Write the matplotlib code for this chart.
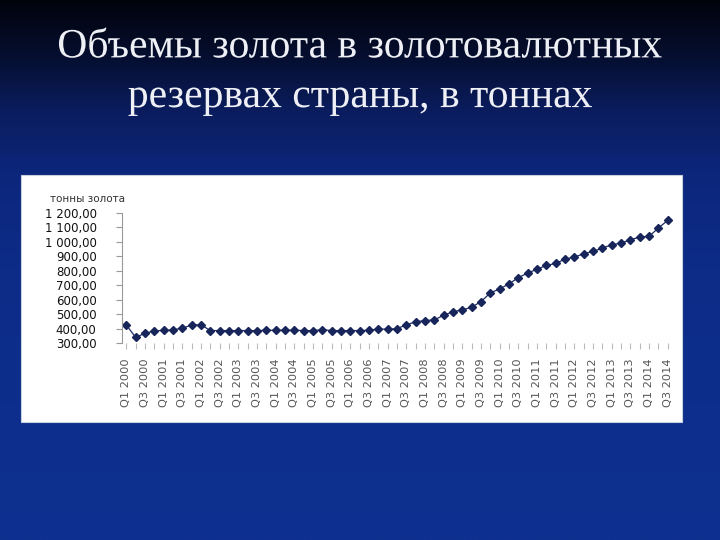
import numpy as np
import matplotlib
matplotlib.use('Agg')
import matplotlib.pyplot as plt
import matplotlib.patheffects as pe
from matplotlib.colors import LinearSegmentedColormap
from matplotlib.patches import Rectangle

# tonnes of gold, quarterly Q1 2000 .. Q3 2014
years = list(range(2000, 2015))
quarters = ['Q%d %d' % (q, y) for y in years for q in (1, 2, 3, 4)][:59]
tonnes = [425, 339, 367, 383, 388, 390, 404, 423, 427, 386,
          386, 386, 386, 386, 386, 388, 388, 388, 388, 386,
          386, 392, 386, 386, 386, 386, 388, 397, 395, 400,
          425, 448, 455, 460, 492, 517, 529, 548, 587, 647,
          675, 709, 753, 784, 811, 837, 851, 881, 895, 918,
          934, 957, 980, 992, 1015, 1033, 1038, 1096, 1149]
yticks = [300, 400, 500, 600, 700, 800, 900, 1000, 1100, 1200]

title = 'Объемы золота в золотовалютных\nрезервах страны, в тоннах'

W, H = 720, 540
fig = plt.figure(figsize=(7.2, 5.4), dpi=100)

# background gradient
bg = fig.add_axes([0, 0, 1, 1])
cmap = LinearSegmentedColormap.from_list('bg', [
    (0.0, '#01030c'), (0.1, '#050e2e'), (0.2, '#0a1c5c'),
    (0.32, '#0c267c'), (0.5, '#0d2c88'), (1.0, '#0e3090')])
grad = np.linspace(0, 1, 256).reshape(-1, 1)
bg.imshow(grad, aspect='auto', cmap=cmap, extent=[0, 1, 0, 1], origin='upper')
bg.set_xlim(0, 1)
bg.set_ylim(0, 1)
bg.axis('off')

# white panel
bg.add_patch(Rectangle((21 / W, 1 - 422 / H), (682 - 21) / W, (422 - 175) / H,
                       facecolor='white', edgecolor='#c8d0e0', lw=0.8))

fig.text(0.5, 1 - 72 / H, title, ha='center', va='center', color='#eef0f6',
         fontsize=30, family='Liberation Serif', linespacing=1.38,
         path_effects=[pe.SimpleLineShadow(offset=(2, -2), shadow_color='black', alpha=0.9),
                       pe.Normal()])

fig.text(50 / W, 1 - 199 / H, 'тонны золота', ha='left', va='center',
         fontsize=7.5, color='#333333')

ax = fig.add_axes([121.6 / W, 1 - 343 / H, (672.4 - 121.6) / W, (343 - 213) / H])
x = np.arange(len(tonnes))
ax.plot(x, tonnes, color='#1b2a66', lw=0.9, marker='D', markersize=4.3,
        markerfacecolor='#17255a', markeredgecolor='#17255a')
ax.set_xlim(-0.5, len(tonnes) - 0.5)
ax.set_ylim(300, 1200)
ax.set_yticks(yticks)
ax.set_yticklabels([('%d' % v if v < 1000 else '%d %03d' % (v // 1000, v % 1000)) + ',00'
                    for v in yticks], fontsize=8.5, color='#111111')
ax.set_xticks(x)
ax.set_xticklabels([q if i % 2 == 0 else '' for i, q in enumerate(quarters)],
                   rotation=90, fontsize=8.2, color='#555555')
ax.tick_params(axis='x', length=4, color='#bbbbbb', pad=7)
ax.tick_params(axis='y', length=4, color='#999999', pad=14)
for s in ['top', 'right', 'bottom']:
    ax.spines[s].set_visible(False)
ax.spines['left'].set_color('#999999')
ax.spines['left'].set_linewidth(0.8)
ax.patch.set_alpha(0)

fig.savefig('out.png', dpi=100)
